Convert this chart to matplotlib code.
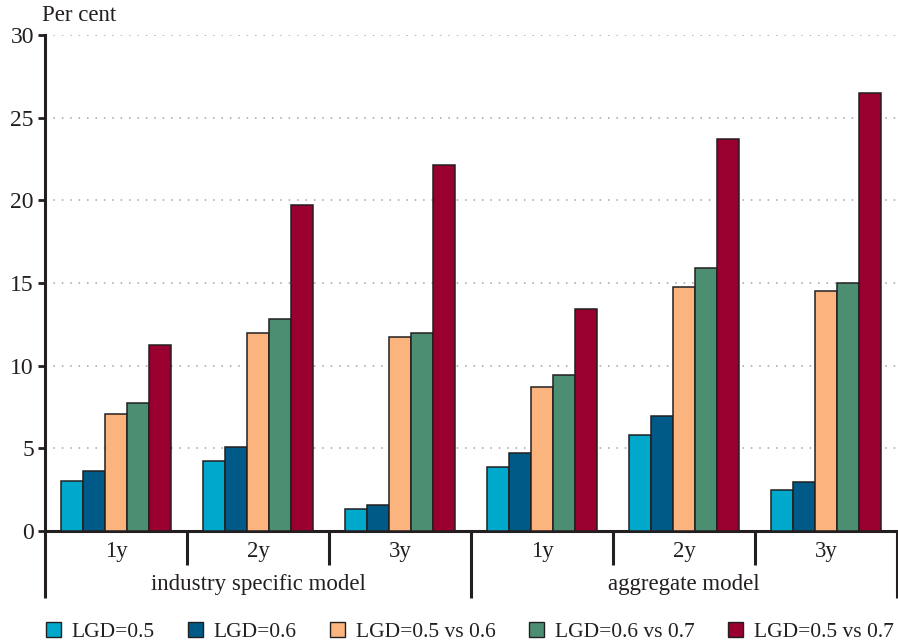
import matplotlib

matplotlib.use("Agg")

import matplotlib.pyplot as plt
import numpy as np
from matplotlib.patches import Patch
from matplotlib.transforms import blended_transform_factory

plt.rcParams["font.family"] = ["Liberation Serif", "DejaVu Serif"]

models = ["industry specific model", "aggregate model"]
horizons = ["1y", "2y", "3y"]
series = ["LGD=0.5", "LGD=0.6", "LGD=0.5 vs 0.6", "LGD=0.6 vs 0.7", "LGD=0.5 vs 0.7"]
colors = ["#00A9CB", "#005A87", "#FBB47E", "#4B8E72", "#9A002F"]

# one value per group: industry 1y,2y,3y then aggregate 1y,2y,3y
lgd_05 = [3.0, 4.25, 1.35, 3.9, 5.8, 2.45]
lgd_06 = [3.6, 5.1, 1.6, 4.7, 6.95, 2.95]
lgd_05_06 = [7.1, 11.95, 11.75, 8.7, 14.75, 14.5]
lgd_06_07 = [7.75, 12.8, 12.0, 9.45, 15.9, 15.0]
lgd_05_07 = [11.25, 19.7, 22.15, 13.45, 23.7, 26.5]
values = [lgd_05, lgd_06, lgd_05_06, lgd_06_07, lgd_05_07]

dark = "#231F20"
fig = plt.figure(figsize=(8.98, 6.42), dpi=100)
ax = fig.add_axes([0.0501, 0.1729, 0.9489, 0.7726])

n_groups = len(models) * len(horizons)
centers = np.arange(n_groups) + 0.5
w = 0.155
for i, (vals, c) in enumerate(zip(values, colors)):
    ax.bar(centers + (i - 2) * w, vals, width=w, color=c, edgecolor=dark,
           linewidth=1.1, zorder=3)

ax.set_xlim(0, n_groups)
ax.set_ylim(0, 30)
ax.set_yticks(np.arange(0, 31, 5))
ax.set_xticks([])
ax.tick_params(axis="y", length=5, width=2, color=dark, labelsize=17,
               labelcolor=dark, pad=3)

for s in ["top", "right"]:
    ax.spines[s].set_visible(False)
ax.spines["left"].set_linewidth(2.2)
ax.spines["left"].set_color(dark)
ax.spines["bottom"].set_linewidth(2.2)
ax.spines["bottom"].set_color(dark)

for yv in np.arange(5, 31, 5):
    ax.axhline(yv, color="#A0A0A0", linestyle=(0, (1, 4.5)), linewidth=1.1, zorder=1)

trans = blended_transform_factory(ax.transData, ax.transAxes)
for k in range(n_groups + 1):
    long = k % len(horizons) == 0
    ax.plot([k, k], [0, -0.135 if long else -0.069], color=dark, linewidth=2.2,
            transform=trans, clip_on=False, solid_capstyle="butt")
for k, c in enumerate(centers):
    ax.text(c, -0.041, horizons[k % len(horizons)], transform=trans,
            ha="center", va="center", fontsize=16.5, color=dark)
for m, name in enumerate(models):
    ax.text((m + 0.5) * len(horizons), -0.108, name, transform=trans,
            ha="center", va="center", fontsize=16.5, color=dark)

fig.text(0.047, 0.976, "Per cent", ha="left", va="center", fontsize=16.5, color=dark)

handles = [Patch(facecolor=c, edgecolor=dark, linewidth=1) for c in colors]
fig.legend(handles, series, loc="lower center", bbox_to_anchor=(0.523, -0.03),
           ncol=5, frameon=False, fontsize=15.5, handlelength=0.7, handleheight=0.7,
           handletextpad=0.5, columnspacing=1.55, labelcolor=dark)

fig.savefig("out.png", dpi=100)
plt.close(fig)
